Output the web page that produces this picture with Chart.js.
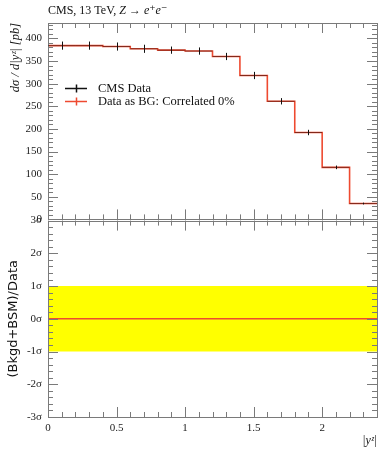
<!DOCTYPE html>
<html>
<head>
<meta charset="utf-8">
<script src="https://cdn.jsdelivr.net/npm/chart.js@4.4.1/dist/chart.umd.min.js"></script>
<style>
  html, body { margin: 0; padding: 0; background: #fff; }
  #wrap { position: relative; width: 389px; height: 450px; }
  canvas { position: absolute; left: 0; }
  #mainChart { top: 0; }
  #ratioChart { top: 208px; }
</style>
</head>
<body>
<div id="wrap">
  <canvas id="mainChart" width="389" height="232" style="width:389px;height:232px"></canvas>
  <canvas id="ratioChart" width="389" height="242" style="width:389px;height:242px"></canvas>
</div>
<script>
// bins in |y^Z|
const binEdges = [0, 0.2, 0.4, 0.6, 0.8, 1.0, 1.2, 1.4, 1.6, 1.8, 2.0, 2.2, 2.4];
// CMS data, dsigma/d|y| [pb]
const cmsData = [384, 384, 382, 377, 374, 372, 360, 318, 261, 192, 115, 35];
const cmsErr = [9, 9, 9, 9, 8, 8, 8, 8, 7, 6, 4, 2];
// Data as BG: Correlated 0%
const bgData = [384, 384, 382, 377, 374, 372, 360, 318, 261, 192, 115, 35];
// ratio panel, in sigma
const ratioSigma = [0, 0, 0, 0, 0, 0, 0, 0, 0, 0, 0, 0];
const bandSigma = [-1, 1];

const xTicks = [0, 0.5, 1, 1.5, 2];
const yTicks = [0, 50, 100, 150, 200, 250, 300, 350, 400];
const sigmaTicks = [-3, -2, -1, 0, 1, 2, 3];

const SERIF = '"Liberation Serif", "DejaVu Serif", serif';
const RED = '#ee4a30';
const FRAME = '#7a7a7a';

function stepPoints(vals) {
  return binEdges.map((e, i) => ({ x: e, y: vals[Math.min(i, vals.length - 1)] }));
}

// frame + inward ticks on all four sides (rivet style)
function frameTicks(yMajor, yMinorStep) {
  return {
    id: 'frameTicks',
    afterDatasetsDraw(chart) {
      const { ctx, chartArea: a, scales } = chart;
      const xs = scales.x, ys = scales.y;
      ctx.save();
      ctx.strokeStyle = FRAME;
      ctx.lineWidth = 1;
      ctx.beginPath();
      // x ticks
      for (let v = xs.min; v <= xs.max + 1e-9; v += 0.1) {
        const px = Math.round(xs.getPixelForValue(v)) + 0.5;
        const major = xTicks.some(t => Math.abs(t - v) < 1e-6);
        const len = major ? 10 : 5;
        ctx.moveTo(px, a.bottom); ctx.lineTo(px, a.bottom - len);
        ctx.moveTo(px, a.top); ctx.lineTo(px, a.top + len);
      }
      // y ticks
      for (let v = ys.min; v <= ys.max + 1e-9; v += yMinorStep) {
        const py = Math.round(ys.getPixelForValue(v)) + 0.5;
        const major = yMajor.some(t => Math.abs(t - v) < 1e-6);
        const len = major ? 10 : 5;
        ctx.moveTo(a.left, py); ctx.lineTo(a.left + len, py);
        ctx.moveTo(a.right, py); ctx.lineTo(a.right - len, py);
      }
      ctx.stroke();
      ctx.strokeRect(Math.round(a.left) + 0.5, Math.round(a.top) + 0.5,
                     Math.round(a.right - a.left), Math.round(a.bottom - a.top));
      ctx.restore();
    }
  };
}

// black data points: x-width bars and vertical error bars
const dataBars = {
  id: 'dataBars',
  afterDatasetsDraw(chart) {
    const { ctx, scales: { x, y } } = chart;
    ctx.save();
    cmsData.forEach((v, i) => {
      const x0 = x.getPixelForValue(binEdges[i]);
      const x1 = x.getPixelForValue(binEdges[i + 1]);
      const xm = x.getPixelForValue((binEdges[i] + binEdges[i + 1]) / 2);
      const py = y.getPixelForValue(v);
      ctx.strokeStyle = 'rgba(0,0,0,0.45)';
      ctx.lineWidth = 1;
      ctx.beginPath(); ctx.moveTo(x0, py); ctx.lineTo(x1, py); ctx.stroke();
      ctx.strokeStyle = '#111';
      ctx.beginPath();
      ctx.moveTo(Math.round(xm) + 0.5, y.getPixelForValue(v + cmsErr[i]));
      ctx.lineTo(Math.round(xm) + 0.5, y.getPixelForValue(v - cmsErr[i]));
      ctx.stroke();
    });
    ctx.restore();
  }
};

const mainText = {
  id: 'mainText',
  afterDraw(chart) {
    const ctx = chart.ctx;
    ctx.save();
    ctx.fillStyle = '#111';
    ctx.textBaseline = 'middle';
    ctx.font = '12px ' + SERIF;
    ctx.fillText('CMS, 13 TeV, ', 48, 11);
    const w = ctx.measureText('CMS, 13 TeV, ').width;
    ctx.font = 'italic 12px ' + SERIF;
    ctx.fillText('Z \u2192 e\u207Ae\u207B', 48 + w, 11);
    // legend
    const items = [['CMS Data', '#111', 88.5], ['Data as BG: Correlated 0%', RED, 101.5]];
    items.forEach(([label, col, ly]) => {
      ctx.strokeStyle = col;
      ctx.lineWidth = 1.5;
      ctx.beginPath();
      ctx.moveTo(65, ly); ctx.lineTo(87, ly);
      ctx.moveTo(76.5, ly - 4); ctx.lineTo(76.5, ly + 4);
      ctx.stroke();
      ctx.fillStyle = '#111';
      ctx.font = '12.5px ' + SERIF;
      ctx.fillText(label, 98, ly);
    });
    ctx.restore();
  }
};

new Chart(document.getElementById('mainChart'), {
  type: 'line',
  data: {
    datasets: [{
      data: stepPoints(bgData),
      stepped: true,
      borderColor: RED,
      borderWidth: 1.6,
      pointRadius: 0,
      fill: false
    }]
  },
  options: {
    responsive: false,
    animation: false,
    events: [],
    layout: { padding: { top: 23, right: 12, bottom: 12, left: 0 } },
    plugins: { legend: { display: false }, tooltip: { enabled: false } },
    scales: {
      x: { type: 'linear', min: 0, max: 2.4, display: false },
      y: {
        type: 'linear', min: 0, max: 434,
        grid: { display: false, drawTicks: false },
        border: { display: false },
        afterBuildTicks: s => { s.ticks = yTicks.map(v => ({ value: v })); },
        afterFit: s => { s.width = 48; },
        ticks: { padding: 6, color: '#222', font: { family: SERIF, size: 11 } },
        title: {
          display: true, align: 'end',
          text: 'd\u03C3 / d|y\u1DBB| [pb]',
          color: '#111',
          font: { family: SERIF, size: 12.5, style: 'italic' },
          padding: { top: 8, bottom: 0 }
        }
      }
    }
  },
  plugins: [frameTicks(yTicks, 10), dataBars, mainText]
});

const ratioText = {
  id: 'ratioText',
  afterDraw(chart) {
    const ctx = chart.ctx;
    ctx.save();
    ctx.fillStyle = '#111';
    ctx.font = 'italic 12px ' + SERIF;
    ctx.textAlign = 'right';
    ctx.textBaseline = 'middle';
    ctx.fillText('|y\u1DBB|', chart.chartArea.right, 233);
    ctx.restore();
  }
};

new Chart(document.getElementById('ratioChart'), {
  type: 'line',
  data: {
    datasets: [{
      data: stepPoints(ratioSigma),
      stepped: true,
      borderColor: RED,
      borderWidth: 1.6,
      pointRadius: 0,
      fill: false
    }, {
      data: [{ x: binEdges[0], y: bandSigma[1] }, { x: binEdges[binEdges.length - 1], y: bandSigma[1] }],
      borderWidth: 0,
      pointRadius: 0,
      backgroundColor: '#ffff00',
      fill: '+1'
    }, {
      data: [{ x: binEdges[0], y: bandSigma[0] }, { x: binEdges[binEdges.length - 1], y: bandSigma[0] }],
      borderWidth: 0,
      pointRadius: 0,
      fill: false
    }]
  },
  options: {
    responsive: false,
    animation: false,
    events: [],
    layout: { padding: { top: 12, right: 12, bottom: 0, left: 0 } },
    plugins: { legend: { display: false }, tooltip: { enabled: false } },
    scales: {
      x: {
        type: 'linear', min: 0, max: 2.4,
        grid: { display: false, drawTicks: false },
        border: { display: false },
        afterBuildTicks: s => { s.ticks = xTicks.map(v => ({ value: v })); },
        afterFit: s => { s.height = 33; },
        ticks: {
          padding: 5, maxRotation: 0, autoSkip: false, color: '#222',
          font: { family: SERIF, size: 11 },
          callback: v => String(v)
        }
      },
      y: {
        type: 'linear', min: -3, max: 3,
        grid: { display: false, drawTicks: false },
        border: { display: false },
        afterBuildTicks: s => { s.ticks = sigmaTicks.map(v => ({ value: v })); },
        afterFit: s => { s.width = 48; },
        ticks: {
          padding: 6, color: '#222', autoSkip: false,
          font: { family: SERIF, size: 11 },
          callback: v => v + '\u03C3'
        },
        title: {
          display: true,
          text: '(Bkgd+BSM)/Data',
          color: '#111',
          font: { family: '"DejaVu Sans", sans-serif', size: 13 },
          padding: { top: 6, bottom: 0 }
        }
      }
    }
  },
  plugins: [frameTicks(sigmaTicks, 0.2), ratioText]
});
</script>
</body>
</html>
